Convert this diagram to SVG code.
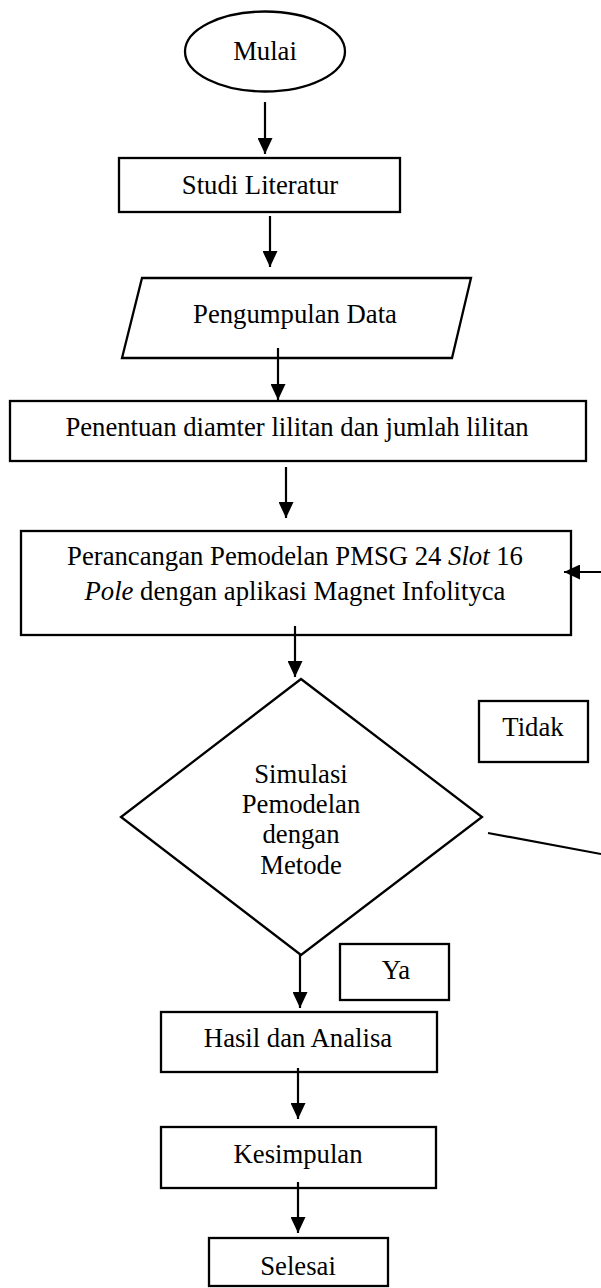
<svg xmlns="http://www.w3.org/2000/svg" width="601" height="1288" viewBox="0 0 601 1288">
<style>
.s{fill:#fff;stroke:#000;stroke-width:2.3}
.t{font-family:"Liberation Serif","Times New Roman",serif;font-size:26.7px;fill:#000;text-anchor:middle}
.c{fill:none;stroke:#000;stroke-width:2.2}
</style>
<defs>
<marker id="ah" viewBox="0 0 16 15" refX="16" refY="7.5" markerWidth="16" markerHeight="15" markerUnits="userSpaceOnUse" orient="auto">
<path d="M0,0 L16,7.5 L0,15 Z" fill="#000"/>
</marker>
</defs>
<rect width="601" height="1288" fill="#fff"/>
<g id="mulai">
<ellipse class="s" cx="265" cy="51.5" rx="80" ry="40"/>
<text class="t" x="265" y="60">Mulai</text>
</g>
<g id="studi">
<rect class="s" x="119" y="158" width="281" height="54"/>
<text class="t" x="260" y="194">Studi Literatur</text>
</g>
<g id="pengumpulan">
<polygon class="s" points="142,278 471,278 452,358 122,358"/>
<text class="t" x="295" y="323">Pengumpulan Data</text>
</g>
<g id="penentuan">
<rect class="s" x="10" y="401" width="576" height="60"/>
<text class="t" x="297" y="436">Penentuan diamter lilitan dan jumlah lilitan</text>
</g>
<g id="perancangan">
<rect class="s" x="21" y="531" width="550" height="104"/>
<text class="t" x="295" y="565">Perancangan Pemodelan PMSG 24 <tspan font-style="italic">Slot</tspan> 16</text>
<text class="t" x="295" y="600"><tspan font-style="italic">Pole</tspan> dengan aplikasi Magnet Infolityca</text>
</g>
<g id="simulasi">
<polygon class="s" points="301,679 482,817 301,955 121,817"/>
<text class="t" x="301" y="783">Simulasi</text>
<text class="t" x="301" y="813">Pemodelan</text>
<text class="t" x="301" y="843">dengan</text>
<text class="t" x="301" y="874">Metode</text>
</g>
<g id="tidak">
<rect class="s" x="479" y="701" width="109" height="61"/>
<text class="t" x="533" y="736">Tidak</text>
</g>
<g id="ya">
<rect class="s" x="340" y="944" width="109" height="56"/>
<text class="t" x="396" y="979">Ya</text>
</g>
<g id="hasil">
<rect class="s" x="161" y="1012" width="276" height="60"/>
<text class="t" x="298" y="1047">Hasil dan Analisa</text>
</g>
<g id="kesimpulan">
<rect class="s" x="161" y="1127" width="275" height="61"/>
<text class="t" x="298" y="1163">Kesimpulan</text>
</g>
<g id="selesai">
<rect class="s" x="209" y="1238" width="179" height="48"/>
<text class="t" x="298" y="1275">Selesai</text>
</g>
<g id="connectors">
<line class="c" x1="265" y1="102" x2="265" y2="154" marker-end="url(#ah)"/>
<line class="c" x1="270" y1="216" x2="270" y2="267" marker-end="url(#ah)"/>
<line class="c" x1="278" y1="348" x2="278" y2="400" marker-end="url(#ah)"/>
<line class="c" x1="286" y1="467" x2="286" y2="518" marker-end="url(#ah)"/>
<line class="c" x1="295" y1="626" x2="295" y2="677" marker-end="url(#ah)"/>
<line class="c" x1="601" y1="572" x2="564" y2="572" marker-end="url(#ah)"/>
<line class="c" x1="488" y1="833" x2="601" y2="854"/>
<line class="c" x1="300" y1="955" x2="300" y2="1008" marker-end="url(#ah)"/>
<line class="c" x1="298" y1="1068" x2="298" y2="1119" marker-end="url(#ah)"/>
<line class="c" x1="298" y1="1182" x2="298" y2="1233" marker-end="url(#ah)"/>
</g>
</svg>
